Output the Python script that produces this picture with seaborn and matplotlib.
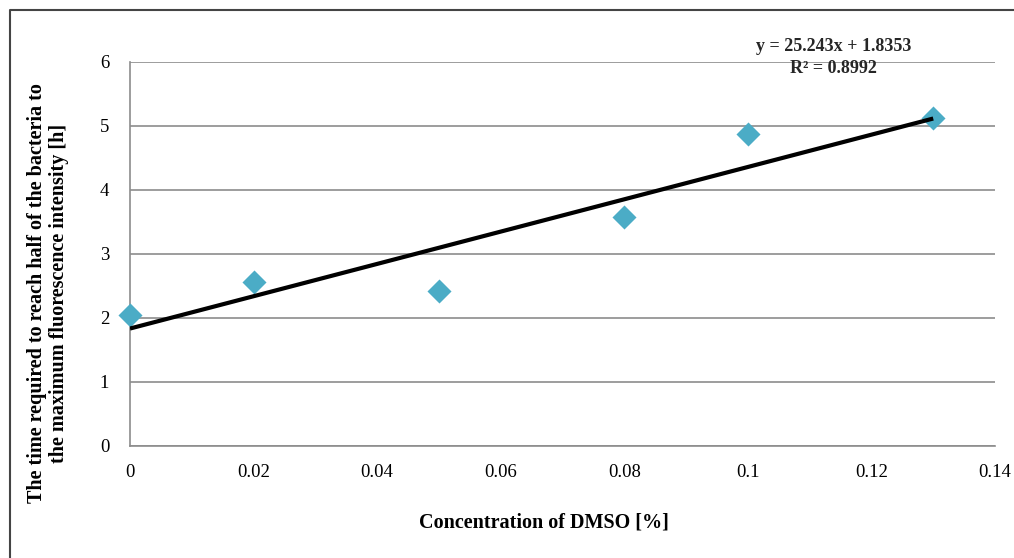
import numpy as np
import pandas as pd
import seaborn as sns
import matplotlib
matplotlib.use("Agg")
import matplotlib.pyplot as plt
from matplotlib.lines import Line2D

# Data
dmso = [0, 0.02, 0.05, 0.08, 0.10, 0.13]
time_h = [2.05, 2.56, 2.42, 3.58, 4.87, 5.12]
slope = 25.243
intercept = 1.8353
r2 = 0.8992
x_ticks = [0, 0.02, 0.04, 0.06, 0.08, 0.1, 0.12, 0.14]
x_tick_labels = ["0", "0.02", "0.04", "0.06", "0.08", "0.1", "0.12", "0.14"]
y_ticks = [0, 1, 2, 3, 4, 5, 6]

sns.set_theme(style="white")
plt.rcParams['font.family'] = ['Liberation Serif', 'DejaVu Serif']

fig = plt.figure(figsize=(10.14, 5.58), dpi=100)
ax = fig.add_axes([130/1014, 1-446/558, 865/1014, 384/558])

df = pd.DataFrame({"x": dmso, "y": time_h})
# trend line
xt = np.array([min(dmso), max(dmso)])
ax.plot(xt, slope*xt + intercept, color="black", lw=3, zorder=4, solid_capstyle="butt")
sns.scatterplot(data=df, x="x", y="y", ax=ax, marker="D", s=150,
                color="#4BACC6", edgecolor="#4BACC6", linewidth=0, zorder=3, clip_on=False)

ax.set_xlim(0, 0.14)
ax.set_ylim(0, 6)
ax.set_xticks(x_ticks)
ax.set_xticklabels(x_tick_labels)
ax.set_yticks(y_ticks)
ax.grid(axis="y", color="#8c8c8c", lw=1.2)
ax.grid(axis="x", visible=False)
ax.set_axisbelow(True)
for s in ["top", "right"]:
    ax.spines[s].set_visible(False)
for s in ["left", "bottom"]:
    ax.spines[s].set_color("#8c8c8c")
    ax.spines[s].set_linewidth(1.2)
ax.tick_params(axis="both", length=6, width=1.2, color="#8c8c8c",
               labelsize=13.5, labelcolor="black", direction="out")
ax.tick_params(axis="x", pad=7)
ax.tick_params(axis="y", pad=9)
ax.set_xlabel("")
ax.set_ylabel("")

fig.text(544/1014, 1-523/558, "Concentration of DMSO [%]", ha="center", va="center",
         fontsize=14.5, fontweight="bold", color="black")
fig.text(48/1014, 1-293/558,
         "The time required to reach half of the bacteria to\nthe maximum fluorescence intensity [h]",
         ha="center", va="center", rotation=90, fontsize=14.5, fontweight="bold",
         linespacing=1.15, color="black", multialignment="center")

ax.text(0.1139, 6.07, f"y = {slope}x + {intercept}\nR² = {r2}", ha="center", va="center",
        fontsize=13, fontweight="bold", linespacing=1.35, clip_on=False)

# chart area border (top and left visible)
fig.add_artist(Line2D([10/1014, 10/1014, 1.0], [0.0, 1-10/558, 1-10/558],
                      transform=fig.transFigure, color="#444444", lw=1.5))

fig.savefig("out.png", dpi=100)
